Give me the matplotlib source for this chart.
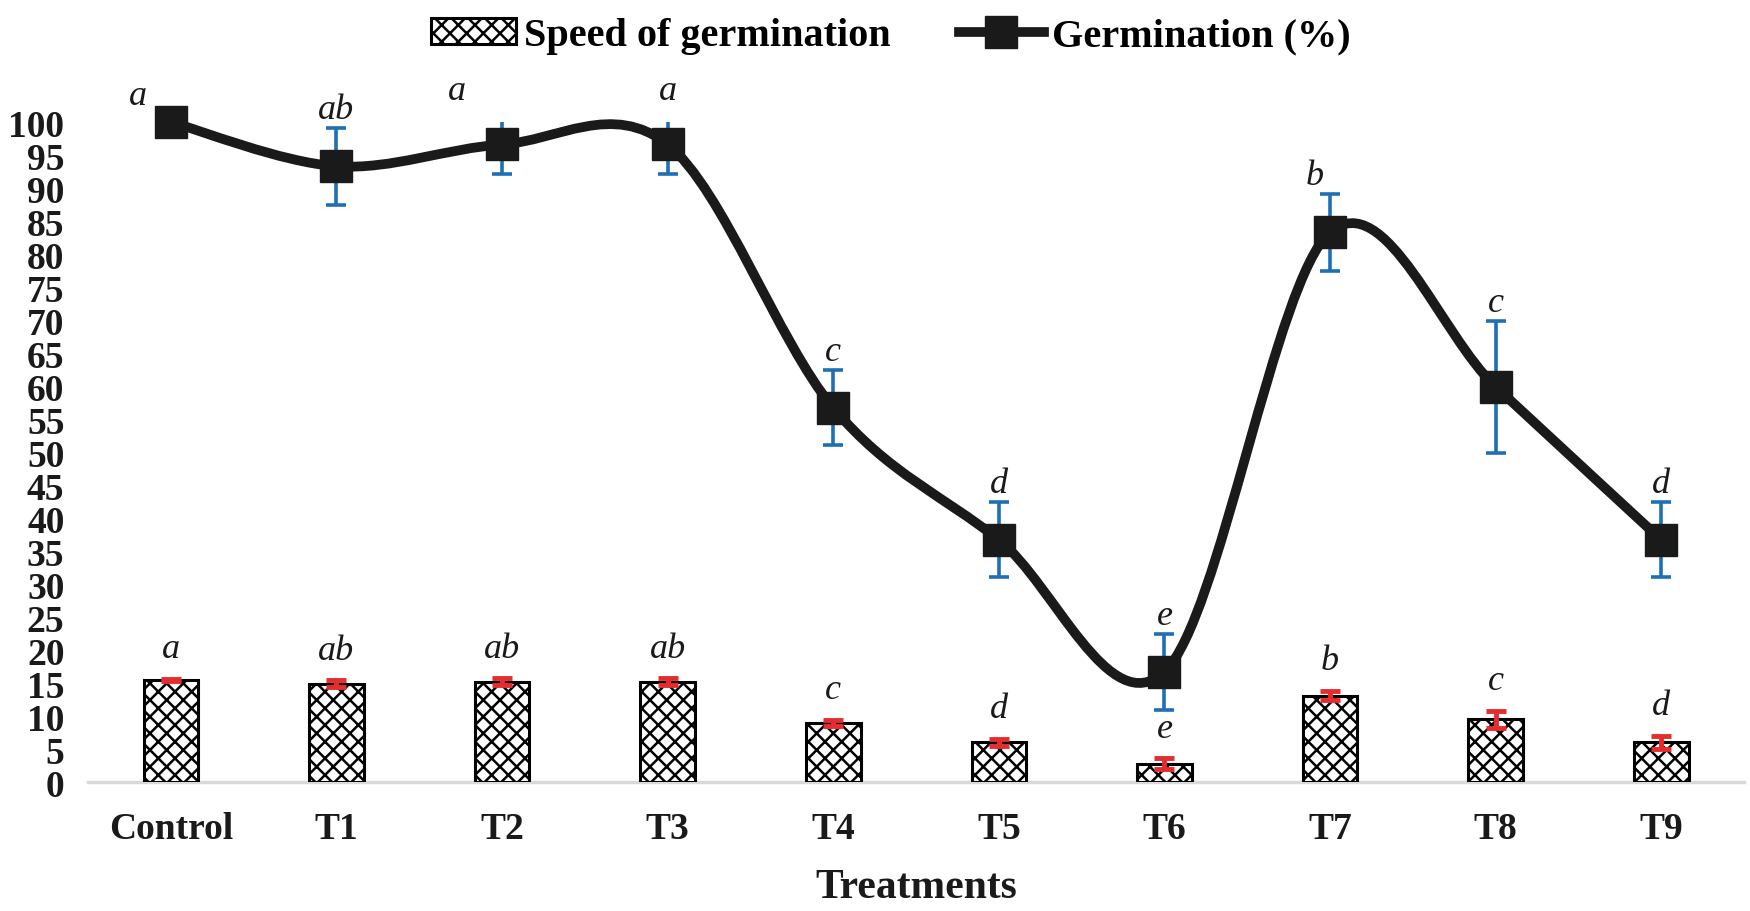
import numpy as np
import matplotlib
matplotlib.use('Agg')
import matplotlib.pyplot as plt
from matplotlib.path import Path
from matplotlib.patches import PathPatch, Patch
from matplotlib.lines import Line2D

# -------------------------------
# Data
# -------------------------------

treatments = ['Control', 'T1', 'T2', 'T3', 'T4', 'T5', 'T6', 'T7', 'T8', 'T9']

# Germination (%) with error
germination = [100, 93.3, 96.6, 96.6, 56.7, 36.7, 16.7, 83.3, 59.9, 36.7]
germination_err = [0, 5.8, 4.5, 4.5, 5.7, 5.7, 5.8, 5.8, 10.0, 5.7]
germination_letters = ['a', 'ab', 'a', 'a', 'c', 'd', 'e', 'b', 'c', 'd']

# Speed of germination with error
speed = [15.5, 14.9, 15.2, 15.2, 9.0, 6.0, 2.8, 13.1, 9.5, 6.0]
speed_err = [0.15, 0.5, 0.5, 0.5, 0.45, 0.5, 0.8, 0.7, 1.3, 1.0]
speed_letters = ['a', 'ab', 'ab', 'ab', 'c', 'd', 'e', 'b', 'c', 'd']

yticks = list(range(0, 101, 5))

# -------------------------------
# Style
# -------------------------------

plt.rcParams['font.family'] = ['Liberation Serif', 'DejaVu Serif']
plt.rcParams['hatch.linewidth'] = 1.8

BLUE = '#1f6fb5'
RED = '#e52d2d'
INK = '#1a1a1a'

fig = plt.figure(figsize=(17.5, 9.12), dpi=100)
ax = fig.add_axes([0.0503, 0.1414, 0.9463, 0.7237])

x = np.arange(len(treatments))

# -------------------------------
# Bars: speed of germination
# -------------------------------

ax.bar(x, speed, width=0.33, color='white', edgecolor='black',
       linewidth=2.2, hatch='xx', zorder=2)
ax.errorbar(x, speed, yerr=speed_err, fmt='none', ecolor=RED,
            elinewidth=3.5, capsize=7, capthick=3.5, zorder=3)

# -------------------------------
# Smoothed line: germination (%)
# -------------------------------

pts = np.column_stack([x, germination]).astype(float)
verts = [pts[0]]
codes = [Path.MOVETO]
n = len(pts)
for i in range(n - 1):
    p_prev = pts[i - 1] if i > 0 else pts[i]
    p_next = pts[i + 2] if i + 2 < n else pts[i + 1]
    c1 = pts[i] + (pts[i + 1] - p_prev) / 6.0
    c2 = pts[i + 1] - (p_next - pts[i]) / 6.0
    verts += [c1, c2, pts[i + 1]]
    codes += [Path.CURVE4, Path.CURVE4, Path.CURVE4]
curve = PathPatch(Path(verts, codes), facecolor='none', edgecolor=INK,
                  linewidth=7, capstyle='round', joinstyle='round', zorder=5)
curve.set_clip_on(False)
ax.add_patch(curve)

ax.errorbar(x, germination, yerr=germination_err, fmt='none', ecolor=BLUE,
            elinewidth=2.6, capsize=7, capthick=2.6, zorder=4)
ax.plot(x, germination, linestyle='none', marker='s', markersize=23,
        color=INK, zorder=6, clip_on=False)

# -------------------------------
# Letters
# -------------------------------

g_dx = {0: -0.2, 2: -0.27, 7: -0.09}
for i, lab in enumerate(germination_letters):
    top = germination[i] + germination_err[i]
    yy = top + 1.5 if germination_err[i] > 0 else top + 2.7
    if i == 2 or i == 3:
        yy = 103.5
    ax.text(x[i] + g_dx.get(i, 0), yy, lab, ha='center', va='baseline',
            fontsize=26, style='italic', color=INK, zorder=7)

for i, lab in enumerate(speed_letters):
    ax.text(x[i], speed[i] + speed_err[i] + 3.3, lab, ha='center',
            va='baseline', fontsize=26, style='italic', color=INK, zorder=7)

# -------------------------------
# Axes
# -------------------------------

ax.set_xlim(-0.5, len(treatments) - 0.5)
ax.set_ylim(0, 100)
ax.set_xticks(x)
ax.set_xticklabels(treatments, fontsize=27, fontweight='bold')
ax.set_yticks(yticks)
ax.set_yticklabels([str(t) for t in yticks], fontsize=27, fontweight='bold')
ax.tick_params(axis='both', length=0, colors=INK)
ax.tick_params(axis='x', pad=21)
ax.tick_params(axis='y', pad=17)

for s in ['top', 'right', 'left']:
    ax.spines[s].set_visible(False)
ax.spines['bottom'].set_color('#d9d9d9')
ax.spines['bottom'].set_linewidth(2.5)
ax.spines['bottom'].set_zorder(1)

ax.set_xlabel('Treatments', fontsize=30, fontweight='bold', labelpad=16,
              color=INK)

# -------------------------------
# Legend
# -------------------------------

handles = [
    Patch(facecolor='white', edgecolor='black', hatch='xx', linewidth=2.2,
          label='Speed of germination'),
    Line2D([0], [0], color=INK, linewidth=7, marker='s',
           markersize=23, label='Germination (%)'),
]
fig.legend(handles=handles, loc='upper center', bbox_to_anchor=(0.509, 1.02),
           ncol=2, frameon=False, handlelength=2.1, handleheight=0.6,
           handletextpad=0.2, columnspacing=1.7,
           prop={'size': 29, 'weight': 'bold'})

fig.savefig('out.png', dpi=100)
